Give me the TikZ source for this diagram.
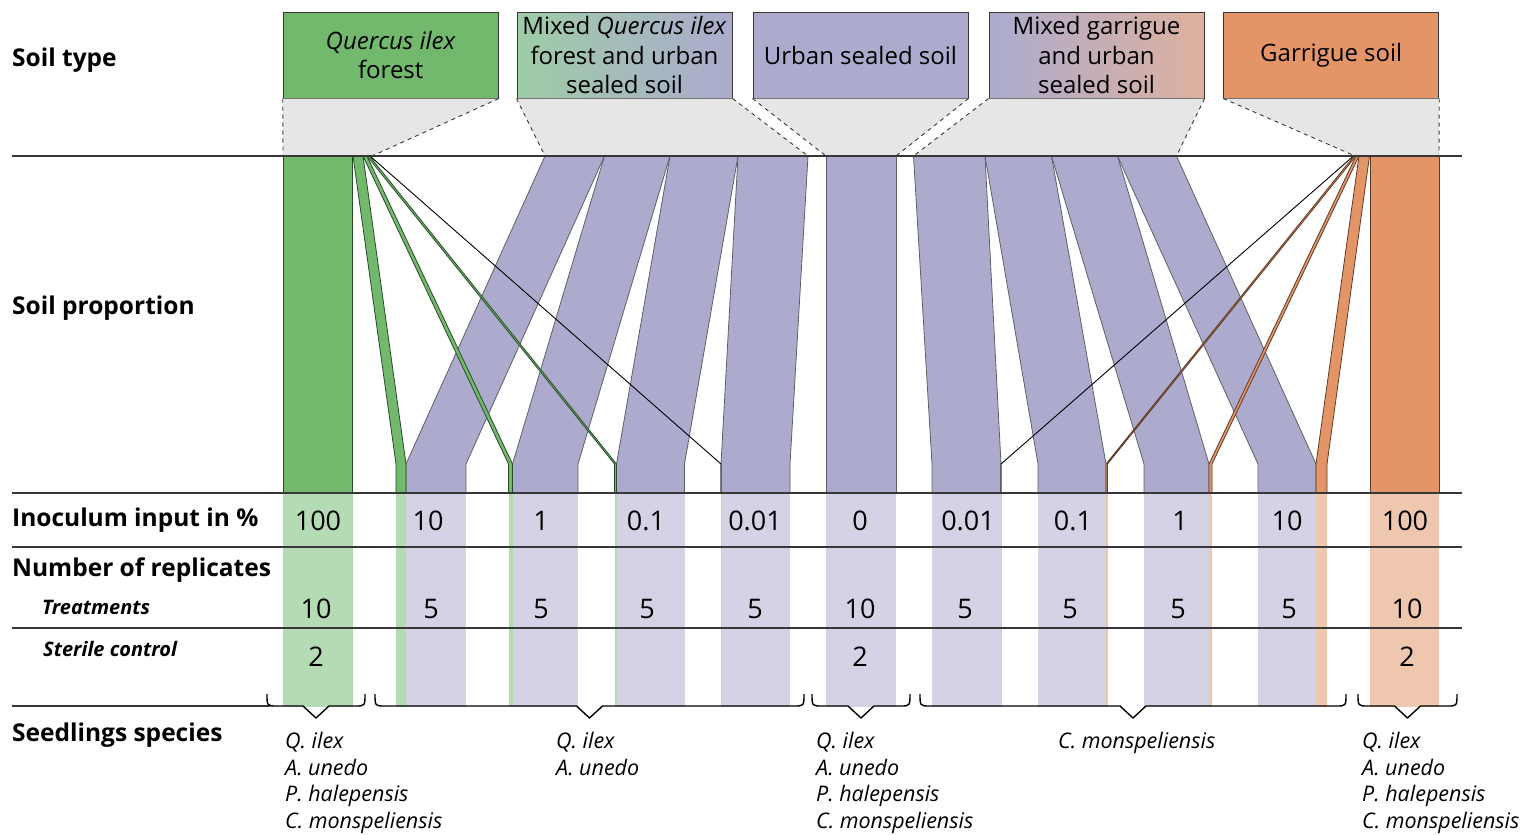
\documentclass[tikz,border=0pt]{standalone}
\usepackage{fontspec}
\setmainfont{Open Sans}

\definecolor{soilgreen}{RGB}{114,185,110}
\definecolor{soilpurple}{RGB}{172,171,206}
\definecolor{soilorange}{RGB}{228,149,103}
\definecolor{lightgreen}{RGB}{181,219,180}
\definecolor{lightpurple}{RGB}{212,211,229}
\definecolor{lightorange}{RGB}{239,199,175}
\definecolor{funnelgray}{RGB}{230,230,230}
\definecolor{mixgreen}{RGB}{158,204,166}
\definecolor{mixmid}{RGB}{174,186,202}
\definecolor{mixlilac}{RGB}{190,180,208}
\definecolor{mixpeach}{RGB}{222,177,158}
\definecolor{boxline}{RGB}{55,55,55}
\definecolor{strandline}{RGB}{95,95,105}
\definecolor{greenline}{RGB}{40,75,40}
\definecolor{orangeline}{RGB}{95,60,40}

\tikzset{
  rowlabel/.style={anchor=west, inner sep=0pt, font=\fontsize{24.5}{28}\selectfont\bfseries},
  sublabel/.style={anchor=west, inner sep=0pt, font=\fontsize{20}{24}\selectfont\bfseries\itshape},
  soilbox/.style={draw=boxline, line width=1pt, minimum width=215pt, minimum height=86pt,
    inner sep=0pt, align=center, font=\fontsize{24}{29.5}\selectfont},
  funnel/.style={fill=funnelgray},
  funneledge/.style={draw=boxline, line width=0.9pt, dash pattern=on 4pt off 4pt},
  rule/.style={draw=boxline, line width=1.1pt},
  purplestrand/.style={fill=soilpurple, draw=strandline, line width=0.8pt},
  greenstrand/.style={fill=soilgreen, draw=greenline, line width=0.8pt},
  orangestrand/.style={fill=soilorange, draw=orangeline, line width=0.8pt},
  value/.style={inner sep=0pt, font=\fontsize{27}{30}\selectfont},
  species/.style={anchor=north west, align=left, inner sep=0pt, font=\fontsize{21.5}{26.7}\selectfont\itshape},
  seedbrace/.style={line width=1.4pt, line join=round}
}

% curly bracket with a pointed tip, from x=#1 to x=#2
\newcommand\seedbrace[2]{%
  \pgfmathsetmacro\bmid{(#1+#2)/2}%
  \draw[seedbrace] (#1,694) .. controls (#1,706) .. (#1+10,706) -- (\bmid-13,706) -- (\bmid,718)
    -- (\bmid+13,706) -- (#2-10,706) .. controls (#2,706) .. (#2,694);}

\begin{document}
\begin{tikzpicture}[x=1pt,y=-1pt]
\useasboundingbox (0,0) rectangle (1532,835);

% soil type boxes
\node[soilbox, fill=soilgreen] (qilex) at (390.75,55) {\textit{Quercus ilex}\\forest};
\node[soilbox, left color=mixgreen, middle color=mixmid, right color=soilpurple] (mixqi) at (624.5,55) {Mixed \textit{Quercus ilex}\\forest and urban\\sealed soil};
\node[soilbox, fill=soilpurple] (urban) at (860.5,55) {Urban sealed soil};
\node[soilbox, left color=soilpurple, middle color=mixlilac, right color=mixpeach] (mixgar) at (1096.5,55) {Mixed garrigue\\and urban\\sealed soil};
\node[soilbox, fill=soilorange] (garrigue) at (1331.25,55) {Garrigue soil};

% funnels down to the proportion band
\foreach \b/\l/\r in {qilex/283/372, mixqi/545/808, urban/826/896, mixgar/913.5/1176.5, garrigue/1355/1439}{
  \fill[funnel] (\b.south west) -- (\b.south east) -- (\r,156) -- (\l,156) -- cycle;
  \draw[funneledge] (\b.south west) -- (\l,156) (\b.south east) -- (\r,156);
}

% light columns
\foreach \a/\b in {283/352.5, 396/406, 508.5/512.5, 614.5/616.5, 720.5/721.5}
  \fill[lightgreen] (\a,493) rectangle (\b,707);
\foreach \a/\b in {406/466, 512.5/578, 616.5/684.5, 721.5/790, 826/896, 932/1001, 1038/1106, 1144/1209, 1258/1316}
  \fill[lightpurple] (\a,493) rectangle (\b,707);
\foreach \a/\b in {1001/1002, 1106/1107.5, 1209/1212, 1316/1327, 1370/1439}
  \fill[lightorange] (\a,493) rectangle (\b,707);

% pure soils
\filldraw[greenstrand] (283,156) rectangle (352.5,493);
\filldraw[purplestrand] (826,156) rectangle (896,493);
\filldraw[orangestrand] (1370,156) rectangle (1439,493);

% mixtures
\foreach \tl/\tr/\bl/\br in {545/604.5/406/466, 604.5/670/512.5/578, 670/738/616.5/684.5, 738/808/721/790,
    913.5/985/932/1001, 985/1051.5/1038/1106, 1051.5/1117.5/1144/1209, 1117.5/1176.5/1258/1316}
  \filldraw[purplestrand] (\tl,156) -- (\bl,464) -- (\bl,493) -- (\br,493) -- (\br,464) -- (\tr,156) -- cycle;
\foreach \tl/\tr/\bl/\br in {353/363/396/406, 363/367/508.5/512.5, 367/369.5/614.5/616.5}
  \filldraw[greenstrand] (\tl,156) -- (\bl,464) -- (\bl,493) -- (\br,493) -- (\br,464) -- (\tr,156) -- cycle;
\foreach \tl/\tr/\bl/\br in {1354/1356/1106/1107.5, 1356/1359/1209/1212, 1359/1369.5/1316/1327}
  \filldraw[orangestrand] (\tl,156) -- (\bl,464) -- (\bl,493) -- (\br,493) -- (\br,464) -- (\tr,156) -- cycle;
\draw[line width=0.9pt] (370,156) -- (721,464) -- (721,493);
\draw[line width=0.9pt] (1353.5,156) -- (1001,464) -- (1001,493);

% rules
\foreach \y in {156,493,547,628}
  \draw[rule] (12,\y) -- (1462,\y);
\draw[rule] (12,706) -- (270,706);

% row labels
\node[rowlabel] (soiltype) at (12,60) {Soil type};
\node[rowlabel] (soilprop) at (12,308) {Soil proportion};
\node[rowlabel] (inoculum) at (12,520) {Inoculum input in \%};
\node[rowlabel] (replicates) at (12,570) {Number of replicates};
\node[sublabel] (treat) at (42,607) {Treatments};
\node[sublabel] (sterile) at (43,649) {Sterile control};
\node[rowlabel] (seedlings) at (12,735) {Seedlings species};

% values
\foreach \x/\v [count=\i] in {318/100, 428/10, 541/1, 646/0.1, 755/0.01, 860/0, 968/0.01, 1073/0.1, 1180/1, 1287/10, 1405/100}
  \node[value] (inp\i) at (\x,521) {\v};
\foreach \x/\v [count=\i] in {316/10, 431/5, 541/5, 647/5, 755/5, 860/10, 965/5, 1070/5, 1178/5, 1289/5, 1407/10}
  \node[value] (rep\i) at (\x,609) {\v};
\foreach \x [count=\i] in {316, 860, 1407}
  \node[value] (ctl\i) at (\x,657) {2};

% seedlings
\seedbrace{267}{365}
\seedbrace{375}{804}
\seedbrace{812}{910}
\seedbrace{920}{1346}
\seedbrace{1358}{1457}
\node[species] (sp1) at (285,732) {Q. ilex\\A. unedo\\P. halepensis\\C. monspeliensis};
\node[species] (sp2) at (556,732) {Q. ilex\\A. unedo};
\node[species] (sp3) at (816,732) {Q. ilex\\A. unedo\\P. halepensis\\C. monspeliensis};
\node[species] (sp4) at (1058,732) {C. monspeliensis};
\node[species] (sp5) at (1362,732) {Q. ilex\\A. unedo\\P. halepensis\\C. monspeliensis};
\end{tikzpicture}
\end{document}
